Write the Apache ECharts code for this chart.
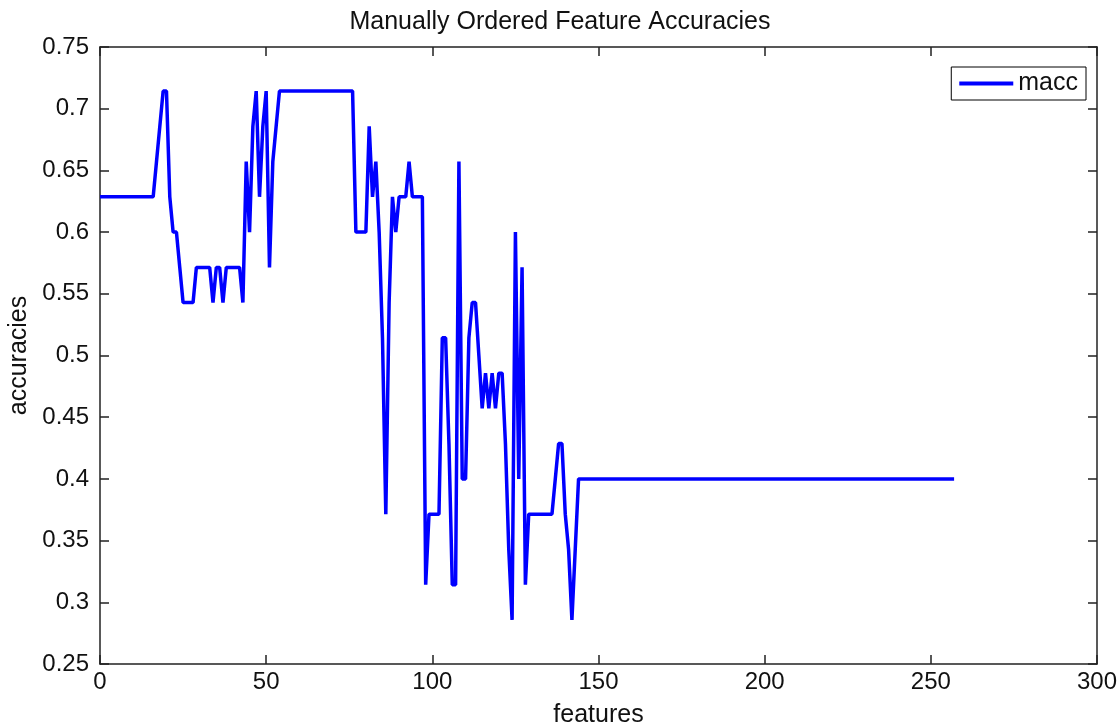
<!DOCTYPE html>
<html>
<head>
<meta charset="utf-8">
<script src="https://cdn.jsdelivr.net/npm/echarts@6/dist/echarts.min.js"></script>
<style>
  html, body { margin: 0; padding: 0; background: #ffffff; }
  #chart { width: 1120px; height: 728px; }
</style>
</head>
<body>
<div id="chart"></div>
<script>
const chartTitle = 'Manually Ordered Feature Accuracies';
const xAxisName = 'features';
const yAxisName = 'accuracies';
const seriesName = 'macc';
const xTicks = [0, 50, 100, 150, 200, 250, 300];
const yTicks = [0.25, 0.3, 0.35, 0.4, 0.45, 0.5, 0.55, 0.6, 0.65, 0.7, 0.75];

// accuracy value for each number of features (x = 0, 1, 2, ...)
const macc = [
  0.6286, 0.6286, 0.6286, 0.6286, 0.6286, 0.6286, 0.6286, 0.6286, 0.6286, 0.6286,
  0.6286, 0.6286, 0.6286, 0.6286, 0.6286, 0.6286, 0.6286, 0.6571, 0.6857, 0.7143,
  0.7143, 0.6286, 0.6000, 0.6000, 0.5714, 0.5429, 0.5429, 0.5429, 0.5429, 0.5714,
  0.5714, 0.5714, 0.5714, 0.5714, 0.5429, 0.5714, 0.5714, 0.5429, 0.5714, 0.5714,
  0.5714, 0.5714, 0.5714, 0.5429, 0.6571, 0.6000, 0.6857, 0.7143, 0.6286, 0.6857,
  0.7143, 0.5714, 0.6571, 0.6857, 0.7143, 0.7143, 0.7143, 0.7143, 0.7143, 0.7143,
  0.7143, 0.7143, 0.7143, 0.7143, 0.7143, 0.7143, 0.7143, 0.7143, 0.7143, 0.7143,
  0.7143, 0.7143, 0.7143, 0.7143, 0.7143, 0.7143, 0.7143, 0.6000, 0.6000, 0.6000,
  0.6000, 0.6857, 0.6286, 0.6571, 0.6000, 0.5143, 0.3714, 0.5429, 0.6286, 0.6000,
  0.6286, 0.6286, 0.6286, 0.6571, 0.6286, 0.6286, 0.6286, 0.6286, 0.3143, 0.3714,
  0.3714, 0.3714, 0.3714, 0.5143, 0.5143, 0.4286, 0.3143, 0.3143, 0.6571, 0.4000,
  0.4000, 0.5143, 0.5429, 0.5429, 0.5000, 0.4571, 0.4857, 0.4571, 0.4857, 0.4571,
  0.4857, 0.4857, 0.4286, 0.3429, 0.2857, 0.6000, 0.4000, 0.5714, 0.3143, 0.3714,
  0.3714, 0.3714, 0.3714, 0.3714, 0.3714, 0.3714, 0.3714, 0.4000, 0.4286, 0.4286,
  0.3714, 0.3429, 0.2857, 0.3429, 0.4000, 0.4000, 0.4000, 0.4000, 0.4000, 0.4000,
  0.4000, 0.4000, 0.4000, 0.4000, 0.4000, 0.4000, 0.4000, 0.4000, 0.4000, 0.4000,
  0.4000, 0.4000, 0.4000, 0.4000, 0.4000, 0.4000, 0.4000, 0.4000, 0.4000, 0.4000,
  0.4000, 0.4000, 0.4000, 0.4000, 0.4000, 0.4000, 0.4000, 0.4000, 0.4000, 0.4000,
  0.4000, 0.4000, 0.4000, 0.4000, 0.4000, 0.4000, 0.4000, 0.4000, 0.4000, 0.4000,
  0.4000, 0.4000, 0.4000, 0.4000, 0.4000, 0.4000, 0.4000, 0.4000, 0.4000, 0.4000,
  0.4000, 0.4000, 0.4000, 0.4000, 0.4000, 0.4000, 0.4000, 0.4000, 0.4000, 0.4000,
  0.4000, 0.4000, 0.4000, 0.4000, 0.4000, 0.4000, 0.4000, 0.4000, 0.4000, 0.4000,
  0.4000, 0.4000, 0.4000, 0.4000, 0.4000, 0.4000, 0.4000, 0.4000, 0.4000, 0.4000,
  0.4000, 0.4000, 0.4000, 0.4000, 0.4000, 0.4000, 0.4000, 0.4000, 0.4000, 0.4000,
  0.4000, 0.4000, 0.4000, 0.4000, 0.4000, 0.4000, 0.4000, 0.4000, 0.4000, 0.4000,
  0.4000, 0.4000, 0.4000, 0.4000, 0.4000, 0.4000, 0.4000, 0.4000
];
// number of features for each point
const features = macc.map((_, i) => i);

const FONT = '"Liberation Sans", Arial, sans-serif';
const AX = '#222222';
const TXT = '#111111';
const xMin = xTicks[0], xMax = xTicks[xTicks.length - 1], xStep = xTicks[1] - xTicks[0];
const yMin = yTicks[0], yMax = yTicks[yTicks.length - 1], yStep = +(yTicks[1] - yTicks[0]).toFixed(2);

function axisBase(extra) {
  return Object.assign({
    type: 'value',
    splitLine: { show: false },
    axisLine: { show: true, onZero: false, lineStyle: { color: AX, width: 1.5 } },
    axisTick: { show: true, inside: true, length: 9, lineStyle: { color: AX, width: 1.5 } },
    axisLabel: { show: false },
    gridIndex: 0
  }, extra);
}

const chart = echarts.init(document.getElementById('chart'), null, { renderer: 'canvas' });
chart.setOption({
  animation: false,
  backgroundColor: '#ffffff',
  title: {
    text: chartTitle,
    left: 'center',
    top: 5,
    textStyle: { fontFamily: FONT, fontSize: 25, fontWeight: 'normal', color: TXT }
  },
  legend: {
    data: [{ name: seriesName, icon: 'rect' }],
    right: 34,
    top: 67,
    itemWidth: 54,
    itemHeight: 4,
    itemGap: 6,
    padding: [4, 8, 4, 8],
    borderColor: '#000',
    borderWidth: 1,
    backgroundColor: '#fff',
    textStyle: { fontFamily: FONT, fontSize: 25, color: TXT }
  },
  grid: { left: 100, right: 23, top: 47, bottom: 64, containLabel: false, outerBoundsMode: 'none' },
  xAxis: [
    axisBase({
      position: 'bottom', min: xMin, max: xMax, interval: xStep,
      name: xAxisName, nameLocation: 'middle', nameGap: 39,
      nameTextStyle: { fontFamily: FONT, fontSize: 25, color: TXT },
      axisLabel: { show: true, margin: 6, fontFamily: FONT, fontSize: 24, color: TXT }
    }),
    axisBase({ position: 'top', min: xMin, max: xMax, interval: xStep })
  ],
  yAxis: [
    axisBase({
      position: 'left', min: yMin, max: yMax, interval: yStep,
      name: yAxisName, nameLocation: 'middle', nameGap: 64,
      nameTextStyle: { fontFamily: FONT, fontSize: 25, color: TXT },
      axisLabel: {
        show: true, margin: 11, fontFamily: FONT, fontSize: 24, color: TXT,
        formatter: v => String(+(+v).toFixed(2))
      }
    }),
    axisBase({ position: 'right', min: yMin, max: yMax, interval: yStep })
  ],
  series: [{
    name: seriesName,
    type: 'line',
    xAxisIndex: 0,
    yAxisIndex: 0,
    data: features.map((f, i) => [f, macc[i]]),
    showSymbol: false,
    symbol: 'none',
    color: '#0000ff',
    lineStyle: { color: '#0000ff', width: 3.5, join: 'bevel' },
    emphasis: { disabled: true }
  }]
});
</script>
</body>
</html>
